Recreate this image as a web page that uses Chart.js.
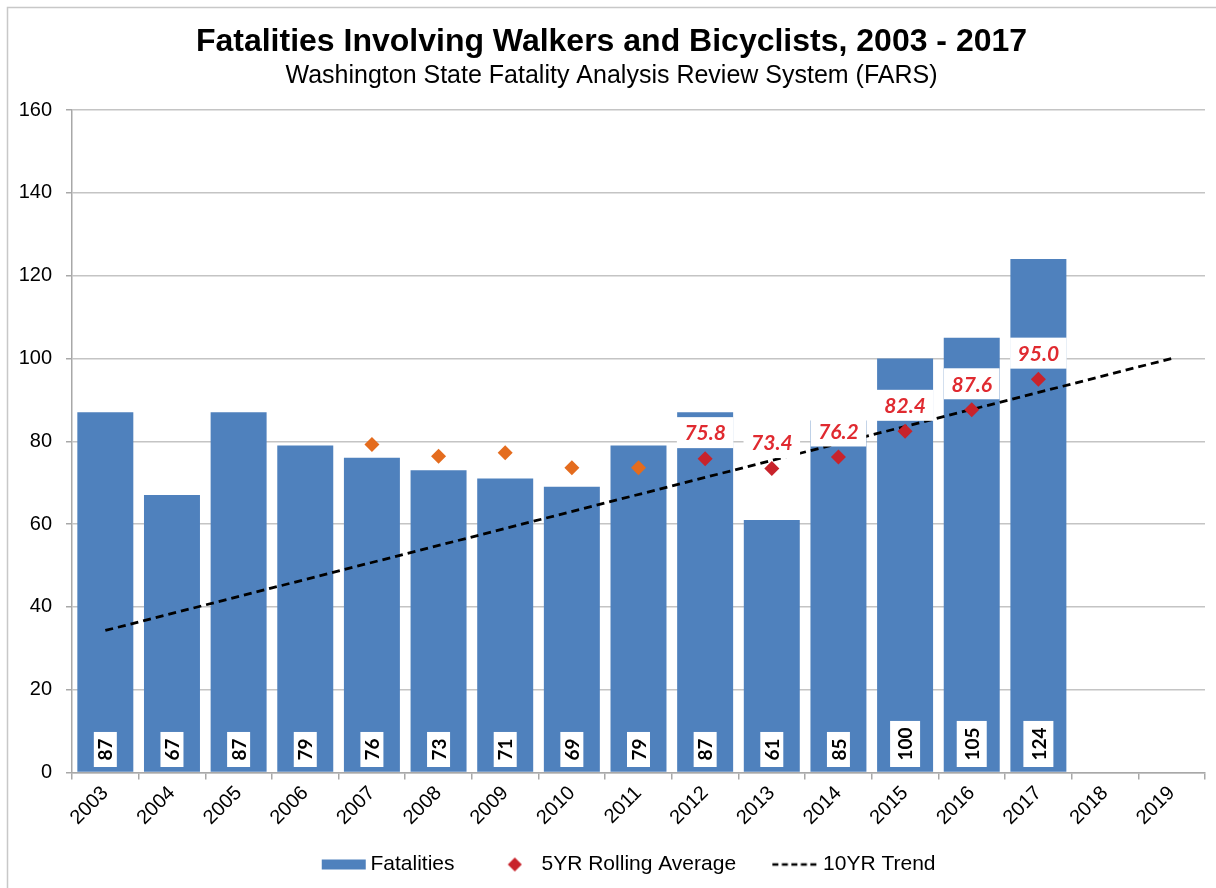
<!DOCTYPE html>
<html>
<head>
<meta charset="utf-8">
<script src="https://cdn.jsdelivr.net/npm/chart.js@4.4.1/dist/chart.umd.min.js"></script>
<style>
  html, body { margin: 0; padding: 0; background: #ffffff; }
  #wrap { width: 1216px; height: 888px; position: relative; }
  canvas { display: block; }
</style>
</head>
<body>
<div id="wrap"><canvas id="chart" width="1216" height="888"></canvas></div>
<script>
// ---- Data ----
const years = ['2003','2004','2005','2006','2007','2008','2009','2010','2011','2012','2013','2014','2015','2016','2017','2018','2019'];
const fatalities = [87, 67, 87, 79, 76, 73, 71, 69, 79, 87, 61, 85, 100, 105, 124, null, null];
const rollingAvg = [null, null, null, null, 79.2, 76.4, 77.2, 73.6, 73.6, 75.8, 73.4, 76.2, 82.4, 87.6, 95.0, null, null];
const trend10yr = [34.3, null, null, null, null, null, null, null, null, null, null, null, null, null, null, null, 100.0];
const earlyAvgYears = ['2007', '2008', '2009', '2010', '2011'];
const labelledAvgYears = ['2012', '2013', '2014', '2015', '2016', '2017'];
const yTickValues = [0, 20, 40, 60, 80, 100, 120, 140, 160];
const titleText = 'Fatalities Involving Walkers and Bicyclists, 2003 - 2017';
const subtitleText = 'Washington State Fatality Analysis Review System (FARS)';
const seriesNames = ['Fatalities', '5YR Rolling Average', '10YR Trend'];

// ---- Styles ----
const FONT = "'Liberation Sans', Arial, Helvetica, sans-serif";
const LABEL_FONT = "Lato, 'Liberation Sans', Arial, sans-serif";
const BAR_BLUE = '#4F81BD';
const RED = '#C8232B';
const LABEL_RED = '#E02A30';
const ORANGE = '#E46C1E';
const GRID = '#c4c4c4';
const AXIS = '#a8a8a8';

function avgColor(ctx) {
  const yr = years[ctx.dataIndex];
  return earlyAvgYears.includes(yr) ? ORANGE : RED;
}

// Legend symbol images
function makeSymbol(kind) {
  const c = document.createElement('canvas');
  c.width = 94; c.height = 16;
  const g = c.getContext('2d');
  if (kind === 'bar') {
    g.fillStyle = BAR_BLUE;
    g.fillRect(45, 3, 44, 10);
  } else if (kind === 'diamond') {
    g.fillStyle = RED;
    g.beginPath();
    g.moveTo(67, 1); g.lineTo(74, 8); g.lineTo(67, 15); g.lineTo(60, 8); g.closePath();
    g.fill();
  } else {
    g.strokeStyle = '#000';
    g.lineWidth = 2.5;
    g.setLineDash([6, 3.5]);
    g.beginPath(); g.moveTo(43, 8); g.lineTo(90, 8); g.stroke();
  }
  return c;
}
const legendSymbols = [makeSymbol('bar'), makeSymbol('diamond'), makeSymbol('dash')];

const framePlugin = {
  id: 'frame',
  beforeDraw(chart) {
    const ctx = chart.ctx;
    ctx.save();
    ctx.fillStyle = '#ffffff';
    ctx.fillRect(0, 0, chart.width, chart.height);
    ctx.strokeStyle = '#c8c8c8';
    ctx.lineWidth = 1.5;
    ctx.beginPath();
    ctx.moveTo(7.5, chart.height); ctx.lineTo(7.5, 7.5); ctx.lineTo(chart.width, 7.5);
    ctx.stroke();
    ctx.restore();
  }
};

const labelPlugin = {
  id: 'valueLabels',
  afterDatasetsDraw(chart) {
    const ctx = chart.ctx;
    const yScale = chart.scales.y;
    const base = yScale.getPixelForValue(0);
    // bar value labels (rotated, white boxes)
    const barMeta = chart.getDatasetMeta(0);
    ctx.save();
    ctx.font = "bold 19px " + LABEL_FONT;
    barMeta.data.forEach((bar, i) => {
      const v = fatalities[i];
      if (v === null || v === undefined) return;
      const text = String(v);
      const tw = ctx.measureText(text).width;
      const cy = base - 12 - tw / 2;
      const bw = text.length > 2 ? 30 : 23;
      const bh = tw + 13;
      ctx.fillStyle = '#ffffff';
      ctx.fillRect(bar.x - bw / 2, cy - bh / 2, bw, bh);
      ctx.save();
      ctx.translate(bar.x + 1, cy);
      ctx.rotate(-Math.PI / 2);
      ctx.fillStyle = '#000000';
      ctx.textAlign = 'center';
      ctx.textBaseline = 'middle';
      ctx.fillText(text, 0, 0);
      ctx.restore();
    });
    ctx.restore();
    // rolling average labels
    const avgMeta = chart.getDatasetMeta(1);
    ctx.save();
    ctx.font = "italic bold 21px " + LABEL_FONT;
    avgMeta.data.forEach((pt, i) => {
      if (!labelledAvgYears.includes(years[i])) return;
      const v = rollingAvg[i];
      if (v === null) return;
      const text = v.toFixed(1);
      const tw = ctx.measureText(text).width;
      const cx = pt.x;
      const cy = pt.y - 26;
      const bw = tw + 15, bh = 31;
      ctx.fillStyle = '#ffffff';
      ctx.fillRect(cx - bw / 2, cy - bh / 2, bw, bh);
      ctx.fillStyle = LABEL_RED;
      ctx.textAlign = 'center';
      ctx.textBaseline = 'middle';
      ctx.fillText(text, cx, cy + 1);
    });
    ctx.restore();
  }
};

const chart = new Chart(document.getElementById('chart'), {
  data: {
    labels: years,
    datasets: [
      {
        type: 'bar',
        label: seriesNames[0],
        data: fatalities,
        backgroundColor: BAR_BLUE,
        borderWidth: 0,
        categoryPercentage: 1.0,
        barPercentage: 0.84,
        order: 3
      },
      {
        type: 'line',
        label: seriesNames[1],
        data: rollingAvg,
        showLine: false,
        pointStyle: 'rectRot',
        pointRadius: 7.5,
        pointHoverRadius: 7.5,
        pointBackgroundColor: avgColor,
        pointBorderColor: avgColor,
        pointBorderWidth: 0,
        order: 1
      },
      {
        type: 'line',
        label: seriesNames[2],
        data: trend10yr,
        spanGaps: true,
        borderColor: '#000000',
        borderWidth: 2.8,
        borderDash: [8, 5],
        pointRadius: 0,
        fill: false,
        order: 2
      }
    ]
  },
  options: {
    responsive: false,
    animation: false,
    devicePixelRatio: 1,
    layout: { padding: { left: 18, right: 11, top: 0, bottom: 3 } },
    plugins: {
      title: {
        display: true,
        text: titleText,
        color: '#000000',
        font: { family: FONT, size: 32, weight: 'bold', lineHeight: 1.2 },
        padding: { top: 23, bottom: 0 }
      },
      subtitle: {
        display: true,
        text: subtitleText,
        color: '#000000',
        font: { family: FONT, size: 25, weight: 'normal', lineHeight: 1.2 },
        padding: { top: 0, bottom: 18.6 }
      },
      legend: {
        display: true,
        position: 'bottom',
        align: 'center',
        labels: {
          usePointStyle: true,
          pointStyleWidth: 72.5,
          boxHeight: 14,
          padding: 4,
          color: '#000000',
          font: { family: FONT, size: 21 },
          generateLabels() {
            return seriesNames.map((name, i) => ({
              text: name,
              pointStyle: legendSymbols[i],
              fillStyle: 'rgba(0,0,0,0)',
              strokeStyle: 'rgba(0,0,0,0)',
              lineWidth: 0,
              hidden: false,
              datasetIndex: i,
              fontColor: '#000000'
            }));
          }
        }
      },
      tooltip: { enabled: false }
    },
    scales: {
      x: {
        offset: true,
        grid: {
          offset: true,
          display: true,
          drawOnChartArea: false,
          drawTicks: true,
          tickLength: 7,
          color: AXIS,
          lineWidth: 1.5
        },
        border: { display: true, color: AXIS, width: 1.5 },
        ticks: {
          color: '#000000',
          font: { family: FONT, size: 20 },
          minRotation: 45,
          maxRotation: 45,
          autoSkip: false,
          padding: 2
        },
        afterFit(scale) { scale.height = 77.5; }
      },
      y: {
        min: 0,
        max: 160,
        afterBuildTicks(scale) { scale.ticks = yTickValues.map(v => ({ value: v })); },
        grid: {
          color: GRID,
          lineWidth: 1.5,
          drawTicks: true,
          tickLength: 6,
          tickColor: AXIS
        },
        border: { display: true, color: AXIS, width: 1.5 },
        ticks: {
          color: '#000000',
          font: { family: FONT, size: 20 },
          padding: 14
        },
        afterFit(scale) { scale.width = 54; }
      }
    }
  },
  plugins: [framePlugin, labelPlugin]
});
</script>
</body>
</html>
